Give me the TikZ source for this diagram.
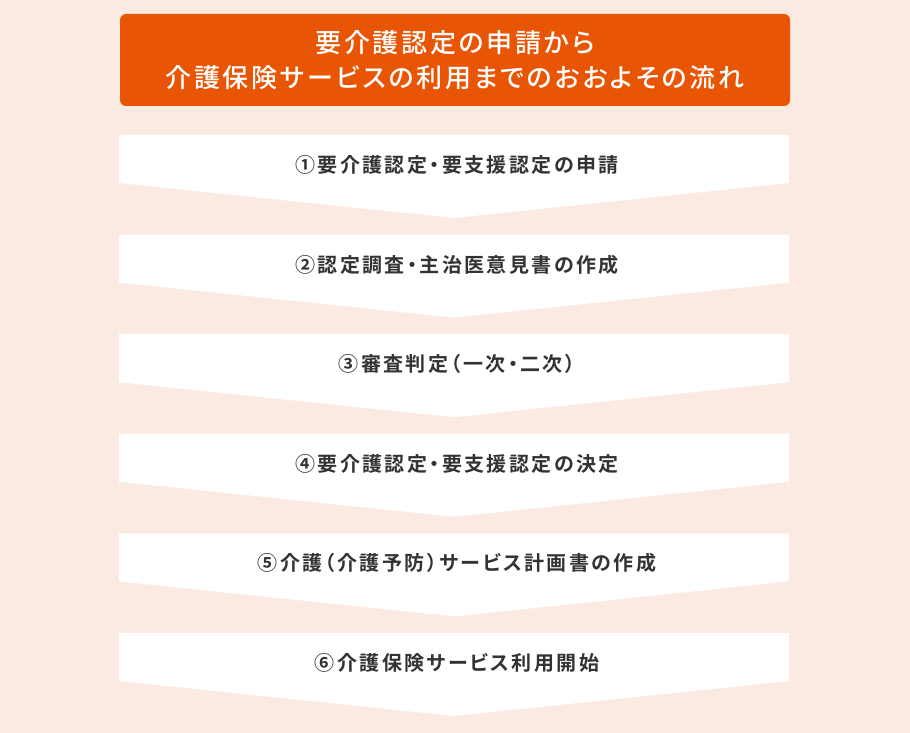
\documentclass[tikz,border=0pt]{standalone}
\usepackage{fontspec}
\newfontfamily\headfont[RawFeature=+palt,LetterSpace=10.5]{Noto Sans CJK JP Medium}
\newfontfamily\stepfont[RawFeature=+palt,LetterSpace=12]{Noto Sans CJK JP Bold}
\definecolor{bgpeach}{HTML}{FBEAE2}
\definecolor{headorange}{HTML}{E85504}
\definecolor{textgray}{HTML}{333333}
\tikzset{
  headbox/.style={fill=headorange,rounded corners=6pt},
  headtext/.style={text=white,align=center,font=\headfont\fontsize{26}{35}\selectfont},
  stepshape/.style={fill=white},
  steptext/.style={text=textgray,font=\stepfont\fontsize{20}{24}\selectfont}
}
\begin{document}
\begin{tikzpicture}[x=1pt,y=-1pt]
  \fill[bgpeach] (0,0) rectangle (910,733);
  \useasboundingbox (0,0) rectangle (910,733);
  % title
  \fill[headbox] (120,14) rectangle (790,106);
  \node[headtext] (title) at (455,60) {要介護認定の申請から\\介護保険サービスの利用までのおおよその流れ};
  % steps
  \foreach \i/\txt in {1/{①要介護認定・要支援認定の申請},
                       2/{②認定調査・主治医意見書の作成},
                       3/{③審査判定（一次・二次）},
                       4/{④要介護認定・要支援認定の決定},
                       5/{⑤介護（介護予防）サービス計画書の作成},
                       6/{⑥介護保険サービス利用開始}} {
    \pgfmathsetmacro{\top}{135+99.6*(\i-1)}
    \fill[stepshape] (119,\top) -- (789,\top) -- (789,\top+48)
      -- (454,\top+83) -- (119,\top+48) -- cycle;
    \node[steptext] (step\i) at (457,\top+30) {\txt};
  }
\end{tikzpicture}
\end{document}
